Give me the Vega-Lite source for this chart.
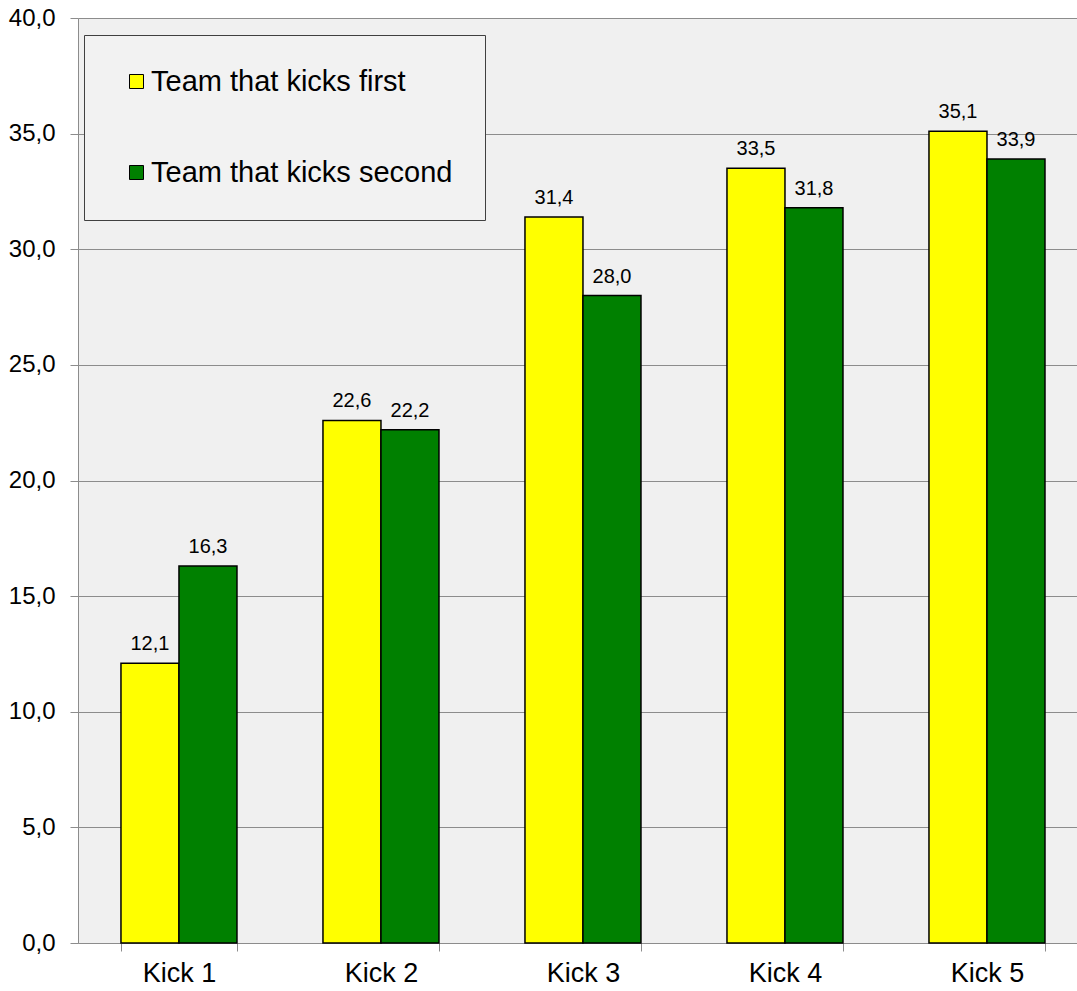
{
  "$schema": "https://vega.github.io/schema/vega-lite/v6.json",
  "width": 999,
  "height": 925,
  "autosize": {"type": "none"},
  "padding": {"left": 78, "top": 18, "right": 0, "bottom": 48},
  "background": "white",
  "config": {
    "view": {"fill": "#f0f0f0", "stroke": null},
    "font": "Liberation Sans",
    "locale": {"number": {"decimal": ",", "thousands": ".", "grouping": [3], "currency": ["", "€"]}}
  },
  "data": {
    "values": [
      {"kick": "Kick 1", "team": "Team that kicks first", "value": 12.1},
      {"kick": "Kick 1", "team": "Team that kicks second", "value": 16.3},
      {"kick": "Kick 2", "team": "Team that kicks first", "value": 22.6},
      {"kick": "Kick 2", "team": "Team that kicks second", "value": 22.2},
      {"kick": "Kick 3", "team": "Team that kicks first", "value": 31.4},
      {"kick": "Kick 3", "team": "Team that kicks second", "value": 28.0},
      {"kick": "Kick 4", "team": "Team that kicks first", "value": 33.5},
      {"kick": "Kick 4", "team": "Team that kicks second", "value": 31.8},
      {"kick": "Kick 5", "team": "Team that kicks first", "value": 35.1},
      {"kick": "Kick 5", "team": "Team that kicks second", "value": 33.9}
    ]
  },
  "encoding": {
    "x": {
      "field": "kick", "type": "nominal",
      "scale": {"paddingInner": 0.4257, "paddingOuter": 0.1856, "align": 0.573},
      "axis": {
        "title": null, "labelAngle": 0, "tickBand": "extent", "tickSize": 8,
        "labelFontSize": 27, "labelPadding": 9, "labelColor": "black",
        "domainColor": "#8c8c8c", "tickColor": "#8c8c8c", "grid": false
      }
    },
    "xOffset": {"field": "team", "type": "nominal", "scale": {"domain": ["Team that kicks first", "Team that kicks second"]}},
    "y": {
      "field": "value", "type": "quantitative",
      "scale": {"domain": [0, 40]},
      "axis": {
        "title": null, "values": [0, 5, 10, 15, 20, 25, 30, 35, 40], "format": ".1f",
        "grid": true, "gridColor": "#8c8c8c", "domainColor": "#8c8c8c", "tickColor": "#8c8c8c",
        "tickSize": 8, "labelFontSize": 24, "labelPadding": 15, "labelColor": "black"
      }
    }
  },
  "layer": [
    {
      "mark": {"type": "bar", "stroke": "black", "strokeWidth": 1.5},
      "encoding": {
        "color": {
          "field": "team", "type": "nominal",
          "scale": {"domain": ["Team that kicks first", "Team that kicks second"], "range": ["#ffff00", "#008000"]},
          "legend": {
            "orient": "none", "legendX": 6, "legendY": 17, "title": null,
            "fillColor": "#f2f2f2", "strokeColor": "#404040", "padding": 32,
            "symbolType": "square", "symbolSize": 196, "symbolStrokeColor": "black", "symbolStrokeWidth": 1,
            "labelFontSize": 29, "labelColor": "black", "rowPadding": 61, "symbolOffset": 6, "labelOffset": 0, "labelLimit": 0
          }
        }
      }
    },
    {
      "mark": {"type": "text", "dy": -13, "baseline": "alphabetic", "fontSize": 20, "color": "black"},
      "encoding": {"text": {"field": "value", "type": "quantitative", "format": ".1f"}}
    }
  ]
}
